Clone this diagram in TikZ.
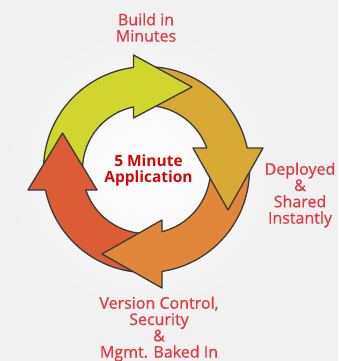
\documentclass[tikz,border=0pt]{standalone}
\usepackage{fontspec}
\setmainfont{Open Sans}
\newfontfamily\labfont[FakeBold=0.6]{Open Sans}
\usetikzlibrary{calc}
\definecolor{bg}{HTML}{F1F1F1}
\definecolor{cy}{HTML}{D0D62E}
\definecolor{cb}{HTML}{D8A835}
\definecolor{co}{HTML}{E0873A}
\definecolor{cr}{HTML}{DC5C36}
\definecolor{edge}{HTML}{3A3A3A}
\definecolor{lab}{HTML}{E0383E}
\definecolor{ctr}{HTML}{D00808}
\newcommand\ringfill[3]{%
  \fill[#1] ($(C)+(#2:103)$) arc[start angle=#2,end angle=#3,radius=103]
    -- ($(C)+(#3:64)$) arc[start angle=#3,end angle=#2,radius=64] -- cycle;}
\newcommand\ringedge[2]{%
  \draw[edgeline] ($(C)+(#1:103)$) arc[start angle=#1,end angle=#2,radius=103];
  \draw[edgeline] ($(C)+(#1:64)$) arc[start angle=#1,end angle=#2,radius=64];}
\begin{document}
\begin{tikzpicture}[x=1pt,y=1pt,
  edgeline/.style={draw=edge,line width=1.3pt,line join=round,line cap=round},
  lbl/.style={text=lab,font=\labfont\fontsize{16}{16.3}\selectfont,align=center,inner sep=0pt},
  ctrlbl/.style={text=ctr,font=\bfseries\fontsize{15.5}{16}\selectfont,align=center,inner sep=0pt}]
\useasboundingbox (0,0) rectangle (338,-361);
\fill[bg] (0,0) rectangle (338,-361);
\coordinate (C) at (146.5,-169.6);
\shade[inner color=white,outer color=bg] (C) circle (140);
% head coordinates
\coordinate (Y1) at (133.5,-55);  \coordinate (Yt) at (192,-87);   \coordinate (Y2) at (133.5,-118);
\coordinate (Yo) at (133.5,-67.4);\coordinate (Yi) at (133.5,-106.9);
\coordinate (B1) at (193,-148);   \coordinate (Bt) at (228,-210);  \coordinate (B2) at (263,-148);
\coordinate (Bi) at (206.7,-148); \coordinate (Bo) at (247.2,-148);
\coordinate (O1) at (162,-220);   \coordinate (Ot) at (102,-254);  \coordinate (O2) at (162,-288);
\coordinate (Oi) at (162,-231.7); \coordinate (Oo) at (162,-271.4);
\coordinate (R1) at (97,-190);    \coordinate (Rt) at (62.5,-133); \coordinate (R2) at (28,-190);
\coordinate (Ri) at (85.8,-190);  \coordinate (Ro) at (45.5,-190);
% shadow
\foreach \dx/\dy/\col in {4.5/-5.5/black!13, 2.5/-3/black!24}{
\begin{scope}[shift={(\dx,\dy)}]
  \fill[\col,even odd rule] (C) circle (103) (C) circle (64);
  \fill[\col] (Y1) -- (Yt) -- (Y2) -- cycle;
  \fill[\col] (B1) -- (Bt) -- (B2) -- cycle;
  \fill[\col] (O1) -- (Ot) -- (O2) -- cycle;
  \fill[\col] (R1) -- (Rt) -- (R2) -- cycle;
\end{scope}}
% bodies
\ringfill{cy}{189.7}{92.9}
\ringfill{cb}{94.9}{8.8}
\ringfill{co}{10.8}{-85.6}
\ringfill{cr}{-83.6}{-172.3}
\ringedge{189.7}{92.9}
\ringedge{94.9}{8.8}
\ringedge{10.8}{-85.6}
\ringedge{-83.6}{-172.3}
% heads
\fill[cy] (Y1) -- (Yt) -- (Y2) -- cycle;
\fill[cb] (B1) -- (Bt) -- (B2) -- cycle;
\fill[co] (O1) -- (Ot) -- (O2) -- cycle;
\fill[cr] (R1) -- (Rt) -- (R2) -- cycle;
\draw[edgeline] (Yo) -- (Y1) -- (Yt) -- (Y2) -- (Yi);
\draw[edgeline] (Bi) -- (B1) -- (Bt) -- (B2) -- (Bo);
\draw[edgeline] (Oi) -- (O1) -- (Ot) -- (O2) -- (Oo);
\draw[edgeline] (Ri) -- (R1) -- (Rt) -- (R2) -- (Ro);
% labels
\node[lbl] (build) at (146,-27.5) {Build in\\Minutes};
\node[ctrlbl] (center) at (148.5,-170) {5 Minute\\Application};
\node[lbl] (deploy) at (300,-195) {Deployed\\\&\\Shared\\Instantly};
\node[lbl] (version) at (159,-329) {Version Control,\\Security\\\&\\Mgmt. Baked In};
\end{tikzpicture}
\end{document}
